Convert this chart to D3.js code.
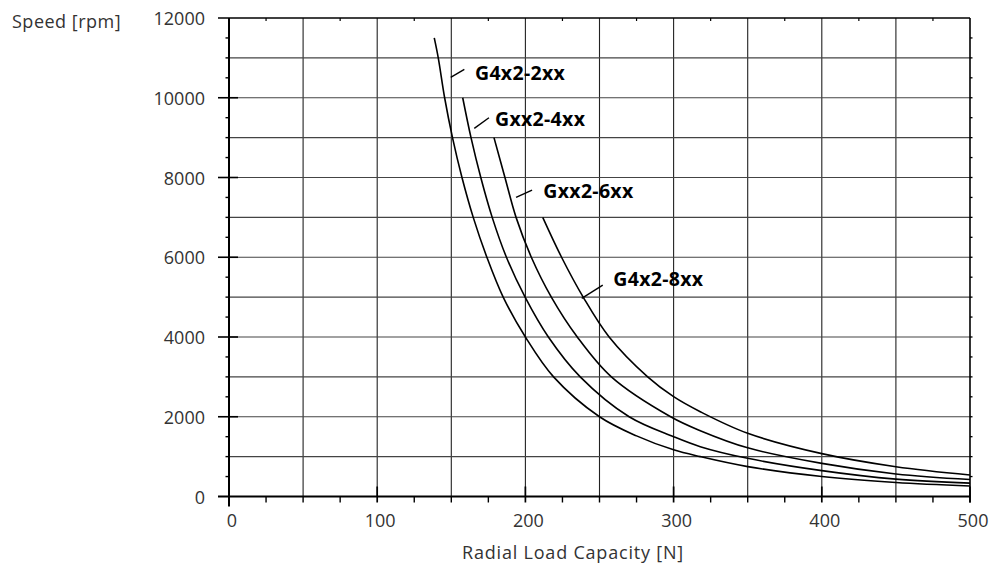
<!DOCTYPE html>
<html>
<head>
<meta charset="utf-8">
<script src="https://cdn.jsdelivr.net/npm/d3@7"></script>
<style>
  html, body { margin: 0; padding: 0; background: #fff; }
  svg { display: block; }
  text { font-family: "Open Sans", "Noto Sans", sans-serif; }
</style>
</head>
<body>
<svg id="chart" width="993" height="567"></svg>
<script>
// ---- Data ----
const xTicks = [0, 100, 200, 300, 400, 500];
const yTicks = [0, 2000, 4000, 6000, 8000, 10000, 12000];
const seriesNames = ["G4x2-2xx", "Gxx2-4xx", "Gxx2-6xx", "G4x2-8xx"];
const loadG4x2_2xx  = [138.5, 141.2, 145.5, 150.8, 157.2, 164.8, 174, 185, 200, 219, 250, 275, 300, 318, 350, 400, 450, 500];
const speedG4x2_2xx = [11500, 11000, 10000, 9000, 8000, 7000, 6000, 5000, 4000, 3000, 2000, 1520, 1170, 1000, 750, 500, 350, 263];
const loadGxx2_4xx  = [157.7, 163.3, 169.9, 177.6, 187.2, 199.8, 215.5, 237, 270, 300, 318, 350, 400, 450, 500];
const speedGxx2_4xx = [10000, 9000, 8000, 7000, 6000, 5000, 4000, 3000, 2000, 1500, 1250, 957, 648, 435, 335];
const loadGxx2_6xx  = [178.8, 186.2, 193.7, 204, 217.5, 235, 258, 298, 318, 350, 400, 450, 500];
const speedGxx2_6xx = [9000, 8000, 7000, 6000, 5000, 4000, 3000, 2000, 1650, 1220, 830, 565, 425];
const loadG4x2_8xx  = [211.7, 224.4, 239, 256.5, 282.5, 300, 318, 350, 400, 450, 500];
const speedG4x2_8xx = [7000, 6000, 5000, 4000, 3000, 2503, 2126, 1585, 1075, 747, 540];
// label leader lines and text anchors, in data units [load, speed]
const leaderStart = [[149.6, 10510], [165.5, 9233], [193.7, 7503], [238, 4970]];
const leaderEnd   = [[158.8, 10710], [175.4, 9499], [204.5, 7686], [252.2, 5303]];
const labelPos    = [[166, 10437], [179.5, 9290], [212.1, 7477], [259.3, 5286]];

const series = [
  { name: seriesNames[0], load: loadG4x2_2xx, speed: speedG4x2_2xx },
  { name: seriesNames[1], load: loadGxx2_4xx, speed: speedGxx2_4xx },
  { name: seriesNames[2], load: loadGxx2_6xx, speed: speedGxx2_6xx },
  { name: seriesNames[3], load: loadG4x2_8xx, speed: speedG4x2_8xx }
];

// ---- Layout ----
const svg = d3.select("#chart");
const x = d3.scaleLinear().domain([0, 500]).range([229, 970]);
const y = d3.scaleLinear().domain([0, 12000]).range([496.5, 18]);
const X0 = x(0), X1 = x(500), Y0 = y(0), Y1 = y(12000);

// grid
const grid = svg.append("g");
d3.range(50, 500, 50).forEach(v => {
  grid.append("line").attr("x1", x(v)).attr("x2", x(v)).attr("y1", Y1).attr("y2", Y0)
    .attr("stroke", "#222").attr("stroke-width", 1.1);
});
d3.range(1000, 12000, 1000).forEach(v => {
  grid.append("line").attr("x1", X0).attr("x2", X1).attr("y1", y(v)).attr("y2", y(v))
    .attr("stroke", "#444").attr("stroke-width", 1.1);
});

// frame / axes
const ax = svg.append("g").attr("stroke", "#000");
ax.append("line").attr("x1", X0).attr("x2", X0).attr("y1", Y1).attr("y2", Y0 + 10).attr("stroke-width", 2);
ax.append("line").attr("x1", X0 - 11).attr("x2", X1).attr("y1", Y0).attr("y2", Y0).attr("stroke-width", 2);
ax.append("line").attr("x1", X0 - 11).attr("x2", X1).attr("y1", Y1).attr("y2", Y1).attr("stroke-width", 1.6);
ax.append("line").attr("x1", X1).attr("x2", X1).attr("y1", Y1).attr("y2", Y0 + 6).attr("stroke-width", 1.6);

// y ticks
d3.range(500, 12000, 500).forEach(v => {
  const major = v % 2000 === 0;
  ax.append("line").attr("x1", major ? X0 - 11 : X0 - 3.5).attr("x2", major ? X0 + 9 : X0)
    .attr("y1", y(v)).attr("y2", y(v)).attr("stroke-width", major ? 1.6 : 1.4);
  ax.append("line").attr("x1", X1).attr("x2", X1 + 2.5)
    .attr("y1", y(v)).attr("y2", y(v)).attr("stroke-width", 1.3);
});
// x ticks
d3.range(25, 501, 25).forEach(v => {
  const major = v % 100 === 0;
  ax.append("line").attr("x1", x(v)).attr("x2", x(v))
    .attr("y1", major ? Y0 - 10 : Y0).attr("y2", Y0 + 6).attr("stroke-width", major ? 1.7 : 1.4);
  if (v % 50 !== 0) {
    ax.append("line").attr("x1", x(v)).attr("x2", x(v)).attr("y1", Y1).attr("y2", Y1 + 3).attr("stroke-width", 1.2);
  }
});

// tick labels
const lab = svg.append("g").attr("fill", "#333").style("font-size", "18px");
yTicks.forEach(v => {
  lab.append("text").attr("x", 205).attr("y", y(v) + 7).attr("text-anchor", "end").text(v);
});
xTicks.forEach(v => {
  lab.append("text").attr("x", x(v) + 3).attr("y", 527).attr("text-anchor", "middle").text(v);
});
lab.append("text").attr("x", 12).attr("y", 28).style("letter-spacing", "0.5px").text("Speed [rpm]");
lab.append("text").attr("x", 573).attr("y", 559).attr("text-anchor", "middle")
  .style("letter-spacing", "0.8px").text("Radial Load Capacity [N]");

// curves
const line = d3.line().x(d => x(d[0])).y(d => y(d[1])).curve(d3.curveCatmullRom.alpha(0.5));
series.forEach(s => {
  const pts = s.load.map((l, i) => [l, s.speed[i]]);
  svg.append("path").attr("d", line(pts)).attr("fill", "none")
    .attr("stroke", "#000").attr("stroke-width", 1.6);
});

// labels with leader lines
series.forEach((s, i) => {
  svg.append("line")
    .attr("x1", x(leaderStart[i][0])).attr("y1", y(leaderStart[i][1]))
    .attr("x2", x(leaderEnd[i][0])).attr("y2", y(leaderEnd[i][1]))
    .attr("stroke", "#000").attr("stroke-width", 1.4);
  svg.append("text").attr("x", x(labelPos[i][0])).attr("y", y(labelPos[i][1]))
    .attr("fill", "#000").style("font-size", "19.5px").style("font-weight", "bold")
    .style("letter-spacing", "0.3px").text(s.name);
});
</script>
</body>
</html>
